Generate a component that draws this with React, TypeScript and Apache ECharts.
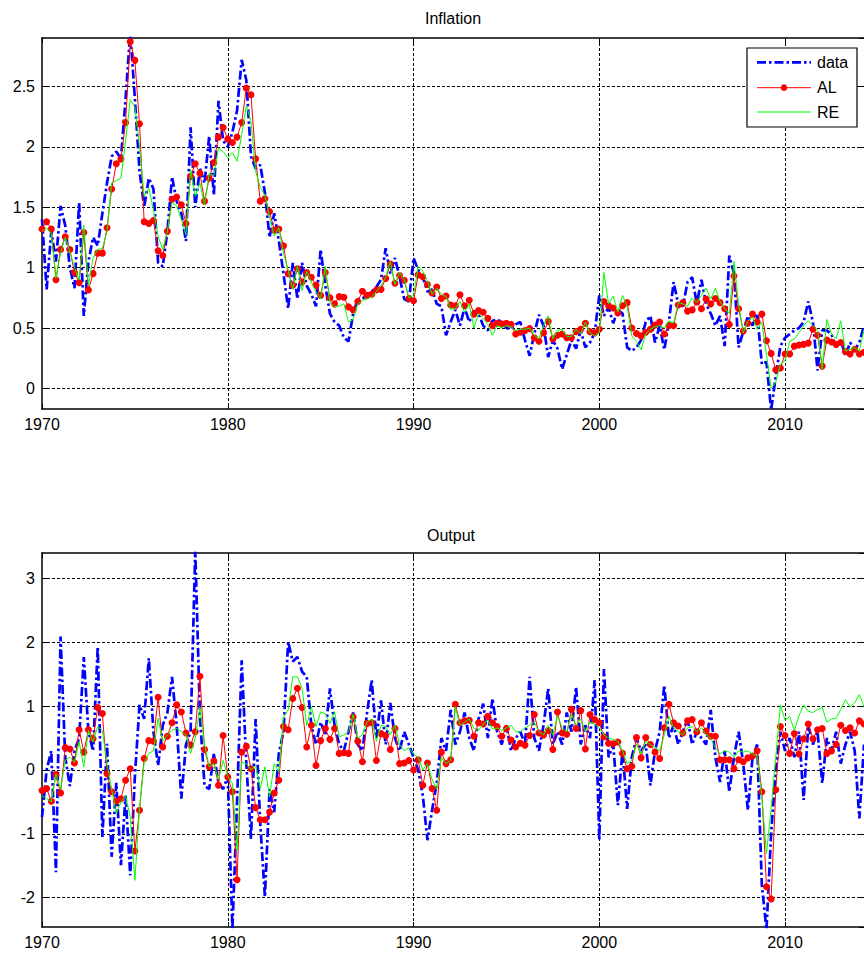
import React, { useEffect, useRef } from 'react';
import * as echarts from 'echarts';

const START_YEAR = 1970;
const PERIODS_PER_YEAR = 4;
const X_MIN = 1970;
const X_MAX = 2014.25;
const xTickLabels = [1970, 1980, 1990, 2000, 2010];
const legendNames = ['data', 'AL', 'RE'];
const titles = ['Inflation', 'Output'];

const infData = [
  1.40, 0.82, 1.30, 1.05, 1.51, 1.35, 1.00, 0.83, 1.54, 0.60,
  1.05, 1.25, 1.18, 1.45, 1.70, 1.92, 1.96, 1.90, 2.40, 2.95,
  2.40, 1.80, 1.50, 1.74, 1.65, 1.04, 1.01, 1.30, 1.75, 1.55,
  1.45, 1.22, 2.16, 1.50, 1.82, 1.70, 2.09, 1.60, 2.38, 2.05,
  2.00, 2.12, 2.30, 2.72, 2.55, 1.92, 1.82, 1.85, 1.62, 1.25,
  1.45, 1.22, 0.95, 0.66, 1.04, 0.74, 1.04, 0.85, 0.78, 0.68,
  1.15, 0.85, 0.62, 0.55, 0.52, 0.42, 0.39, 0.62, 0.74, 0.74,
  0.78, 0.80, 0.84, 0.90, 1.16, 0.95, 1.08, 0.92, 0.74, 0.72,
  1.08, 0.98, 0.92, 0.80, 0.82, 0.70, 0.68, 0.44, 0.55, 0.65,
  0.52, 0.67, 0.55, 0.64, 0.62, 0.52, 0.48, 0.56, 0.57, 0.55,
  0.50, 0.49, 0.53, 0.55, 0.40, 0.27, 0.45, 0.61, 0.52, 0.26,
  0.40, 0.33, 0.16, 0.28, 0.40, 0.33, 0.48, 0.34, 0.38, 0.46,
  0.77, 0.60, 0.67, 0.54, 0.65, 0.62, 0.34, 0.31, 0.34, 0.40,
  0.55, 0.60, 0.38, 0.52, 0.32, 0.55, 0.88, 0.70, 0.68, 0.88,
  0.92, 0.70, 0.90, 0.70, 0.62, 0.52, 0.60, 0.35, 1.10, 0.95,
  0.34, 0.47, 0.60, 0.52, 0.62, 0.20, 0.22, -0.18, 0.10, 0.35,
  0.42, 0.45, 0.48, 0.50, 0.55, 0.72, 0.55, 0.15, 0.48, 0.48,
  0.45, 0.34, 0.40, 0.27, 0.38, 0.32, 0.38, 0.52,
];

const infAL = [
  1.32, 1.38, 1.32, 0.90, 1.15, 1.255, 1.15, 0.96, 0.875, 1.29,
  0.815, 0.95, 1.12, 1.12, 1.33, 1.65, 1.86, 1.90, 2.20, 2.87,
  2.715, 2.19, 1.38, 1.365, 1.39, 1.14, 1.10, 1.30, 1.565, 1.585,
  1.52, 1.365, 1.755, 1.86, 1.78, 1.55, 1.74, 1.87, 2.08, 2.16,
  2.065, 2.035, 2.08, 2.20, 2.485, 2.43, 1.90, 1.55, 1.57, 1.465,
  1.31, 1.32, 1.18, 0.95, 0.855, 0.99, 0.88, 0.96, 0.92, 0.855,
  0.77, 0.96, 0.75, 0.70, 0.76, 0.755, 0.675, 0.65, 0.72, 0.805,
  0.77, 0.78, 0.815, 0.82, 0.91, 1.03, 0.87, 0.935, 0.895, 0.745,
  0.725, 0.94, 0.925, 0.86, 0.79, 0.84, 0.745, 0.765, 0.69, 0.685,
  0.775, 0.685, 0.73, 0.615, 0.645, 0.63, 0.58, 0.52, 0.54, 0.535,
  0.54, 0.53, 0.45, 0.465, 0.48, 0.495, 0.42, 0.39, 0.46, 0.555,
  0.41, 0.44, 0.45, 0.42, 0.42, 0.47, 0.49, 0.54, 0.47, 0.46,
  0.49, 0.72, 0.685, 0.665, 0.625, 0.685, 0.71, 0.50, 0.455, 0.435,
  0.465, 0.49, 0.525, 0.55, 0.45, 0.52, 0.52, 0.69, 0.71, 0.64,
  0.65, 0.715, 0.66, 0.74, 0.70, 0.745, 0.71, 0.66, 0.53, 0.93,
  0.66, 0.475, 0.54, 0.615, 0.55, 0.615, 0.395, 0.29, 0.155, 0.17,
  0.285, 0.285, 0.35, 0.36, 0.365, 0.375, 0.49, 0.44, 0.185, 0.40,
  0.385, 0.365, 0.38, 0.305, 0.285, 0.325, 0.285, 0.30,
];

const infRE = [
  1.30, 1.33, 1.28, 0.91, 1.12, 1.25, 1.13, 1.00, 0.90, 1.35,
  0.85, 1.08, 1.15, 1.16, 1.30, 1.70, 1.72, 1.74, 2.05, 2.39,
  2.33, 2.00, 1.59, 1.66, 1.48, 1.26, 1.15, 1.30, 1.54, 1.51,
  1.40, 1.27, 1.81, 1.59, 1.70, 1.52, 1.78, 1.76, 1.99, 1.96,
  1.91, 1.95, 1.88, 2.10, 2.34, 2.21, 1.80, 1.66, 1.60, 1.42,
  1.26, 1.33, 1.12, 0.98, 0.82, 1.01, 0.81, 0.97, 0.88, 0.80,
  0.74, 1.01, 0.71, 0.68, 0.68, 0.70, 0.55, 0.57, 0.70, 0.73,
  0.74, 0.76, 0.80, 0.85, 0.92, 1.05, 0.86, 0.96, 0.90, 0.75,
  0.77, 1.01, 0.97, 0.89, 0.78, 0.83, 0.78, 0.76, 0.655, 0.66,
  0.72, 0.63, 0.70, 0.50, 0.62, 0.58, 0.53, 0.44, 0.52, 0.50,
  0.52, 0.51, 0.48, 0.49, 0.49, 0.50, 0.44, 0.41, 0.52, 0.60,
  0.41, 0.48, 0.49, 0.43, 0.43, 0.49, 0.45, 0.55, 0.46, 0.435,
  0.46, 0.96, 0.70, 0.765, 0.63, 0.77, 0.68, 0.435, 0.39, 0.32,
  0.45, 0.49, 0.51, 0.52, 0.50, 0.56, 0.54, 0.71, 0.70, 0.68,
  0.75, 0.71, 0.77, 0.83, 0.74, 0.83, 0.72, 0.66, 0.62, 1.05,
  0.70, 0.46, 0.56, 0.59, 0.49, 0.55, 0.28, 0.00, 0.05, 0.20,
  0.23, 0.39, 0.41, 0.46, 0.52, 0.56, 0.52, 0.48, 0.16, 0.57,
  0.45, 0.41, 0.56, 0.31, 0.325, 0.34, 0.31, 0.49,
];

const outData = [
  -0.74, 0.00, 0.30, -1.60, 2.09, 0.20, -0.25, 0.30, 0.50, 1.77,
  0.60, 0.30, 1.93, -1.05, 0.41, -1.36, -0.20, -1.49, -0.40, -1.65,
  -0.10, 1.02, 0.80, 1.75, 0.60, 0.07, 0.70, 0.90, 1.46, 0.70,
  -0.45, 0.40, 0.60, 3.45, 0.85, -0.25, -0.30, 0.25, -0.20, -0.30,
  -0.10, -2.50, -0.50, 1.72, 0.10, -1.08, 0.80, -0.84, -1.99, -0.30,
  -0.66, 0.26, 0.60, 2.01, 1.70, 1.77, 1.54, 1.46, 0.70, 0.40,
  0.75, 0.55, 1.28, 0.70, 0.40, 0.30, 0.60, 0.90, 0.40, 0.30,
  0.90, 1.41, 0.50, 1.09, 0.40, 1.05, 0.50, 0.30, 0.60, 0.40,
  0.20, 0.00, -0.40, -1.10, -0.63, -0.20, 0.50, 0.30, 0.94, 0.40,
  0.60, 0.90, 0.50, 0.30, 0.80, 1.04, 0.50, 1.12, 0.60, 0.40,
  0.70, 0.30, 0.50, 0.60, 0.40, 1.46, 0.50, 0.30, 0.70, 1.28,
  0.40, 0.60, 0.40, 0.90, 0.60, 1.30, 0.40, 0.70, 0.50, 1.41,
  -1.10, 1.58, 0.20, 0.40, -0.55, 0.30, -0.61, 0.20, 0.50, 0.30,
  0.40, -0.24, 0.30, 0.60, 1.33, 0.50, 0.70, 0.40, 0.60, 0.80,
  0.40, 0.60, 0.50, 0.40, 0.94, 0.20, -0.19, 0.30, -0.34, 0.20,
  0.60, 0.10, -0.63, 0.20, 0.40, -1.80, -2.50, -1.00, 0.00, 0.60,
  0.30, 0.50, 0.20, 0.60, -0.47, 0.70, 0.40, 0.60, -0.21, 0.50,
  0.30, 0.60, 0.10, 0.40, 0.60, 0.30, -0.76, 0.40,
];

const outAL = [
  -0.32, -0.29, -0.49, -0.07, -0.36, 0.35, 0.33, 0.11, 0.63, 0.28,
  0.63, 0.49, 0.98, 0.885, -0.06, -0.34, -0.49, -0.45, -0.16, 0.02,
  -1.27, -0.63, 0.18, 0.46, 0.45, 1.14, 0.36, 0.53, 0.74, 1.02,
  0.91, 0.58, 0.39, 0.60, 1.47, 0.32, 0.05, 0.14, -0.24, 0.54,
  -0.11, -0.34, -1.72, 0.28, 0.37, 0.02, -0.59, -0.78, -0.78, -0.66,
  -0.36, -0.16, 0.68, 0.63, 1.12, 1.28, 0.98, 0.36, 0.70, 0.07,
  0.46, 0.65, 0.48, 0.65, 0.26, 0.27, 0.26, 0.83, 0.45, 0.13,
  0.73, 0.74, 0.15, 0.57, 0.54, 0.32, 0.65, 0.10, 0.11, 0.15,
  0.00, 0.16, -0.24, 0.11, -0.29, -0.63, 0.28, 0.10, 0.16, 1.03,
  0.74, 0.77, 0.78, 0.53, 0.74, 0.72, 0.84, 0.74, 0.68, 0.53,
  0.65, 0.47, 0.36, 0.42, 0.39, 0.54, 0.87, 0.58, 0.55, 0.62,
  0.32, 0.91, 0.58, 0.56, 0.95, 0.65, 0.93, 0.33, 0.87, 0.79,
  0.74, 0.52, 0.42, 0.41, 0.44, 0.26, 0.02, 0.06, 0.51, 0.19,
  0.51, 0.40, 0.28, 0.18, 0.66, 1.03, 0.74, 0.69, 0.58, 0.77,
  0.79, 0.60, 0.74, 0.61, 0.53, 0.53, 0.16, 0.16, 0.16, 0.02,
  0.16, 0.13, 0.19, 0.22, 0.30, -0.34, -1.83, -2.02, -0.31, 0.68,
  0.54, 0.26, 0.57, 0.25, 0.49, 0.72, 0.49, 0.63, 0.65, 0.26,
  0.30, 0.40, 0.70, 0.62, 0.66, 0.58, 0.77, 0.72,
];

const outRE = [
  -0.40, -0.45, -0.50, -0.06, -0.30, 0.15, 0.20, 0.12, 0.44, 0.05,
  0.62, 0.44, 0.68, 0.62, 0.10, -0.30, -0.68, -0.50, -0.40, -0.74,
  -1.73, -0.60, 0.12, 0.26, 0.30, 0.81, 0.45, 0.55, 0.62, 0.65,
  0.60, 0.55, 0.26, 0.50, 0.99, 0.40, 0.05, 0.10, -0.15, 0.15,
  -0.10, -0.21, -1.26, 0.12, 0.10, 0.00, 0.07, -0.29, 0.05, -0.42,
  0.10, -0.03, 0.83, 0.94, 1.46, 1.46, 1.28, 0.70, 0.99, 0.68,
  0.91, 0.88, 0.73, 0.91, 0.52, 0.55, 0.60, 0.87, 0.50, 0.55,
  0.75, 0.80, 0.45, 0.70, 0.68, 0.55, 0.70, 0.40, 0.30, 0.35,
  0.25, 0.20, 0.00, 0.10, -0.15, -0.30, 0.20, 0.10, 0.15, 0.99,
  0.70, 0.75, 0.80, 0.65, 0.62, 0.72, 0.78, 0.64, 0.66, 0.62,
  0.66, 0.70, 0.60, 0.60, 0.66, 0.70, 0.75, 0.60, 0.55, 0.70,
  0.55, 0.85, 0.66, 0.60, 0.88, 0.70, 0.80, 0.60, 0.75, 0.72,
  0.66, 0.55, 0.50, 0.48, 0.45, 0.30, 0.10, 0.15, 0.40, 0.25,
  0.45, 0.40, 0.35, 0.30, 0.55, 0.84, 0.66, 0.60, 0.55, 0.66,
  0.68, 0.60, 0.66, 0.55, 0.50, 0.35, 0.25, 0.30, 0.28, 0.20,
  0.30, 0.28, 0.30, 0.25, 0.22, -0.42, -1.31, -0.60, 0.20, 1.02,
  0.78, 0.84, 0.62, 0.85, 1.02, 0.92, 0.90, 0.95, 0.98, 0.75,
  0.80, 0.81, 0.95, 1.10, 0.99, 1.05, 1.18, 0.99,
];

const yRanges = [
  { min: -0.17, max: 2.9, step: 0.5 },
  { min: -2.46, max: 3.4, step: 1 },
];

const FONT = "'Liberation Sans', Arial, Helvetica, sans-serif";
const FS = 16;

export default function App() {
  const ref = useRef<HTMLDivElement>(null);

  useEffect(() => {
    const el = ref.current;
    if (!el) return;
    const chart = echarts.init(el, undefined, { renderer: 'svg' });

    const toPairs = (arr: number[]) =>
      arr.map((v, i) => [START_YEAR + i / PERIODS_PER_YEAR, v]);

    const grids = [
      { left: 42, top: 38, width: 822, height: 371 },
      { left: 42, top: 553, width: 822, height: 374 },
    ];

    const axisLineStyle = { color: '#000', width: 1.5 };
    const gridLineStyle = { color: '#000', width: 1, type: [3, 2] as any };

    const xAxes: any[] = [];
    const yAxes: any[] = [];
    grids.forEach((_, gi) => {
      xAxes.push({
        gridIndex: gi,
        type: 'value',
        position: 'bottom',
        min: X_MIN,
        max: X_MAX,
        interval: 10,
        axisLine: { show: true, onZero: false, lineStyle: axisLineStyle },
        axisTick: { show: true, inside: true, length: 5, lineStyle: { color: '#000', width: 1 } },
        axisLabel: {
          color: '#000',
          fontSize: FS,
          fontFamily: FONT,
          margin: 7,
          showMaxLabel: false,
          formatter: (v: number) => (xTickLabels.includes(v) ? String(v) : ''),
        },
        splitLine: { show: true, showMinLine: false, showMaxLine: false, lineStyle: gridLineStyle },
      });
      xAxes.push({
        gridIndex: gi,
        type: 'value',
        position: 'top',
        min: X_MIN,
        max: X_MAX,
        interval: 10,
        axisLine: { show: true, onZero: false, lineStyle: axisLineStyle },
        axisTick: { show: true, inside: true, length: 5, lineStyle: { color: '#000', width: 1 } },
        axisLabel: { show: false },
        splitLine: { show: false },
      });
      const r = yRanges[gi];
      const fmt = (v: number) => {
        const q = v / r.step;
        return Math.abs(q - Math.round(q)) < 1e-6 ? String(Math.round(v * 100) / 100) : '';
      };
      yAxes.push({
        gridIndex: gi,
        type: 'value',
        position: 'left',
        min: r.min,
        max: r.max,
        splitNumber: 5,
        axisLine: { show: true, onZero: false, lineStyle: axisLineStyle },
        axisTick: { show: true, inside: true, length: 5, lineStyle: { color: '#000', width: 1 } },
        axisLabel: {
          color: '#000',
          fontSize: FS,
          fontFamily: FONT,
          margin: 7,
          showMinLabel: false,
          showMaxLabel: false,
          formatter: fmt,
        },
        splitLine: { show: true, showMinLine: false, showMaxLine: false, lineStyle: gridLineStyle },
      });
      yAxes.push({
        gridIndex: gi,
        type: 'value',
        position: 'right',
        min: r.min,
        max: r.max,
        splitNumber: 5,
        axisLine: { show: false, onZero: false },
        axisTick: { show: true, inside: true, length: 5, lineStyle: { color: '#000', width: 1 } },
        axisLabel: { show: false },
        splitLine: { show: false },
      });
    });

    const sets = [
      [infData, infAL, infRE],
      [outData, outAL, outRE],
    ];
    const series: any[] = [];
    sets.forEach((s, gi) => {
      const xi = gi * 2;
      const yi = gi * 2;
      series.push({
        name: legendNames[0],
        type: 'line',
        xAxisIndex: xi,
        yAxisIndex: yi,
        data: toPairs(s[0]),
        showSymbol: false,
        symbol: 'none',
        silent: true,
        lineStyle: { color: '#0000ff', width: 2.7, type: [9, 3, 2.5, 3] },
        z: 2,
      });
      series.push({
        name: legendNames[1],
        type: 'line',
        xAxisIndex: xi,
        yAxisIndex: yi,
        data: toPairs(s[1]),
        symbol: 'circle',
        symbolSize: 7,
        showSymbol: true,
        silent: true,
        itemStyle: { color: '#ff0000', borderWidth: 0 },
        lineStyle: { color: '#ff0000', width: 1 },
        z: 3,
      });
      series.push({
        name: legendNames[2],
        type: 'line',
        xAxisIndex: xi,
        yAxisIndex: yi,
        data: toPairs(s[2]),
        showSymbol: false,
        symbol: 'none',
        silent: true,
        lineStyle: { color: '#00ff00', width: 1 },
        z: 4,
      });
    });

    const legendRows = [62.3, 87.7, 112];
    const lx1 = 757;
    const lx2 = 811;
    const graphic: any[] = [
      {
        type: 'text',
        x: 453,
        y: 18,
        z: 100,
        style: { text: titles[0], fill: '#000', font: `${FS}px ${FONT}`, align: 'center', verticalAlign: 'middle' },
      },
      {
        type: 'text',
        x: 451,
        y: 535,
        z: 100,
        style: { text: titles[1], fill: '#000', font: `${FS}px ${FONT}`, align: 'center', verticalAlign: 'middle' },
      },
      {
        type: 'rect',
        z: 100,
        shape: { x: 747, y: 48, width: 110, height: 79 },
        style: { fill: '#fff', stroke: '#000', lineWidth: 1.2 },
      },
      {
        type: 'line',
        z: 101,
        shape: { x1: lx1, y1: legendRows[0], x2: lx2, y2: legendRows[0] },
        style: { stroke: '#0000ff', lineWidth: 2.7, lineDash: [9, 3, 2.5, 3] },
      },
      {
        type: 'line',
        z: 101,
        shape: { x1: lx1, y1: legendRows[1], x2: lx2, y2: legendRows[1] },
        style: { stroke: '#ff0000', lineWidth: 1 },
      },
      {
        type: 'circle',
        z: 102,
        shape: { cx: (lx1 + lx2) / 2, cy: legendRows[1], r: 3.3 },
        style: { fill: '#ff0000' },
      },
      {
        type: 'line',
        z: 101,
        shape: { x1: lx1, y1: legendRows[2], x2: lx2, y2: legendRows[2] },
        style: { stroke: '#00ff00', lineWidth: 1 },
      },
      ...legendNames.map((n, i) => ({
        type: 'text',
        x: 817,
        y: legendRows[i],
        z: 101,
        style: { text: n, fill: '#000', font: `${FS}px ${FONT}`, align: 'left', verticalAlign: 'middle' },
      })),
    ];

    chart.setOption({
      animation: false,
      backgroundColor: '#fff',
      grid: grids,
      xAxis: xAxes,
      yAxis: yAxes,
      series,
      graphic,
    });

    return () => {
      chart.dispose();
    };
  }, []);

  return (
    <div
      ref={ref}
      style={{ position: 'absolute', left: 0, top: 0, width: 864, height: 954, background: '#fff' }}
    />
  );
}
